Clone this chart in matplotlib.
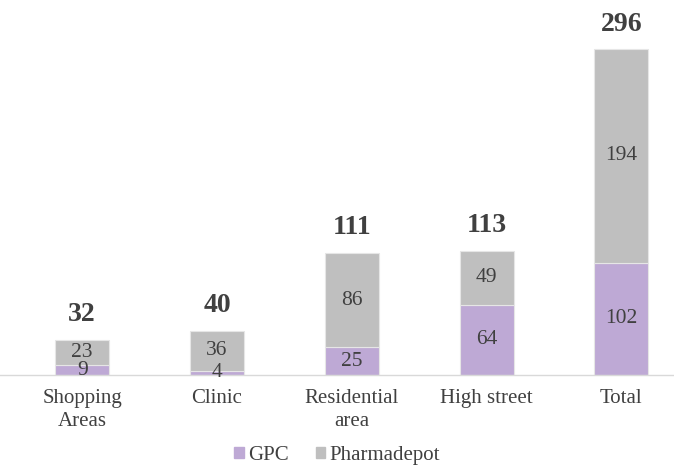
import matplotlib.pyplot as plt
from matplotlib.patches import Patch

categories = ['Shopping\nAreas', 'Clinic', 'Residential\narea', 'High street', 'Total']
gpc = [9, 4, 25, 64, 102]
pharmadepot = [23, 36, 86, 49, 194]
totals = [g + p for g, p in zip(gpc, pharmadepot)]

plt.rcParams['font.family'] = 'serif'
plt.rcParams['font.serif'] = ['Liberation Serif', 'DejaVu Serif']
txt = '#404040'
c_gpc = '#bea9d5'
c_ph = '#bfbfbf'

fig = plt.figure(figsize=(6.74, 4.65), dpi=100)
ax = fig.add_axes([0.0, 0.1935, 1.0, 0.8065])

x = list(range(len(categories)))
ax.bar(x, gpc, width=0.4, color=c_gpc, edgecolor='#e6e6e6', linewidth=0.8)
ax.bar(x, pharmadepot, width=0.4, bottom=gpc, color=c_ph, edgecolor='#e6e6e6', linewidth=0.8)

for i in x:
    ax.text(i, gpc[i] / 2, str(gpc[i]), ha='center', va='center', fontsize=15.5, color=txt)
    ax.text(i, gpc[i] + pharmadepot[i] / 2, str(pharmadepot[i]), ha='center', va='center',
            fontsize=15.5, color=txt)
    ax.annotate(str(totals[i]), (i, totals[i]), xytext=(0, 18), textcoords='offset points',
                ha='center', va='center', fontsize=20, fontweight='bold', color=txt)

ax.set_xlim(-0.61, 4.39)
ax.set_ylim(0, 340.6)
ax.set_yticks([])
ax.set_xticks(x)
ax.set_xticklabels(categories, fontsize=15, color=txt, linespacing=1.3)
ax.tick_params(axis='x', length=0, pad=10)
for s in ['top', 'right', 'left']:
    ax.spines[s].set_visible(False)
ax.spines['bottom'].set_color('#d9d9d9')
ax.spines['bottom'].set_linewidth(1)

handles = [Patch(color=c_gpc, label='GPC'), Patch(color=c_ph, label='Pharmadepot')]
leg = fig.legend(handles=handles, loc='center', bbox_to_anchor=(0.5, 0.02), ncol=2,
                 frameon=False, fontsize=15, handlelength=0.45, handleheight=0.45,
                 handletextpad=0.2, columnspacing=1.3)
for t in leg.get_texts():
    t.set_color(txt)

fig.savefig('out.png', dpi=100)
